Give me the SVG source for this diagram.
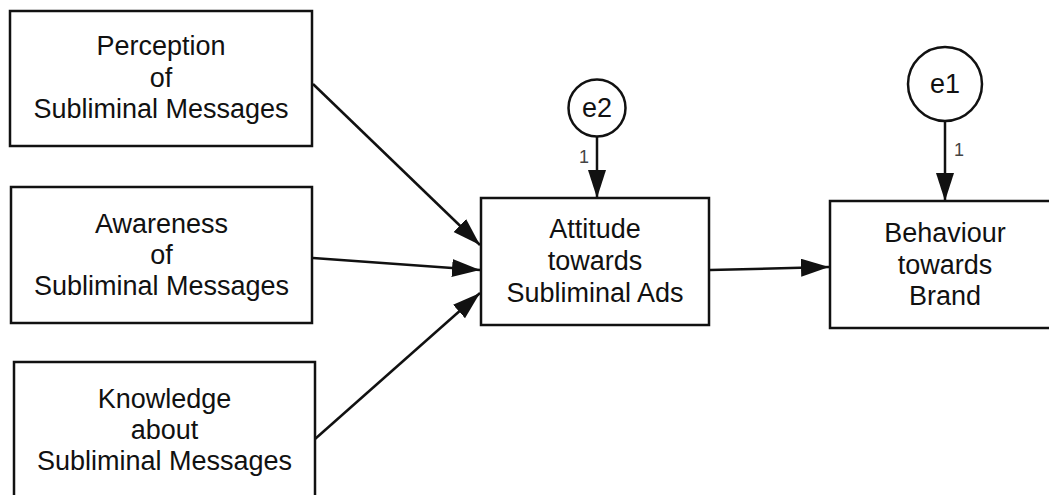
<svg xmlns="http://www.w3.org/2000/svg" width="1049" height="495" viewBox="0 0 1049 495">
<style>
.box{fill:#fff;stroke:#111;stroke-width:2.5}
.t{font-family:"Liberation Sans",Arial,sans-serif;font-size:27px;fill:#111;text-anchor:middle}
.n{font-family:"Liberation Sans",Arial,sans-serif;font-size:18px;fill:#444;text-anchor:middle}
.c{stroke:#111;stroke-width:2.5;fill:none;marker-end:url(#ah)}
</style>
<defs>
<marker id="ah" markerUnits="userSpaceOnUse" markerWidth="30" markerHeight="20" refX="28" refY="9" orient="auto">
<path d="M0,0 L28,9 L0,18 Z" fill="#111"/>
</marker>
</defs>
<rect width="1049" height="495" fill="#fff"/>
<g id="connectors">
<line class="c" x1="313" y1="84" x2="480" y2="245"/>
<line class="c" x1="313" y1="258" x2="480" y2="270"/>
<line class="c" x1="315" y1="439" x2="480" y2="293"/>
<line class="c" x1="710" y1="270" x2="829" y2="267"/>
<line class="c" x1="597" y1="137" x2="597" y2="198"/>
<line class="c" x1="945" y1="121" x2="945" y2="201"/>
<text class="n" x="584" y="163">1</text>
<text class="n" x="959" y="156">1</text>
</g>
<g id="perception">
<rect class="box" x="10" y="11" width="302" height="135"/>
<text class="t" x="161" y="55">Perception</text>
<text class="t" x="161" y="87">of</text>
<text class="t" x="161" y="118">Subliminal Messages</text>
</g>
<g id="awareness">
<rect class="box" x="11" y="187" width="301" height="136"/>
<text class="t" x="161.5" y="233">Awareness</text>
<text class="t" x="161.5" y="264">of</text>
<text class="t" x="161.5" y="295">Subliminal Messages</text>
</g>
<g id="knowledge">
<rect class="box" x="14" y="362" width="301" height="140"/>
<text class="t" x="164.5" y="408">Knowledge</text>
<text class="t" x="164.5" y="439">about</text>
<text class="t" x="164.5" y="470">Subliminal Messages</text>
</g>
<g id="attitude">
<rect class="box" x="481" y="198" width="228" height="127"/>
<text class="t" x="595" y="238">Attitude</text>
<text class="t" x="595" y="270">towards</text>
<text class="t" x="595" y="302">Subliminal Ads</text>
</g>
<g id="behaviour">
<rect class="box" x="830" y="201" width="230" height="127"/>
<text class="t" x="945" y="242">Behaviour</text>
<text class="t" x="945" y="274">towards</text>
<text class="t" x="945" y="305">Brand</text>
</g>
<g id="e2">
<circle class="box" cx="597" cy="108" r="28.5"/>
<text class="t" x="597" y="117">e2</text>
</g>
<g id="e1">
<circle class="box" cx="945" cy="84" r="37"/>
<text class="t" x="945" y="93">e1</text>
</g>
</svg>
